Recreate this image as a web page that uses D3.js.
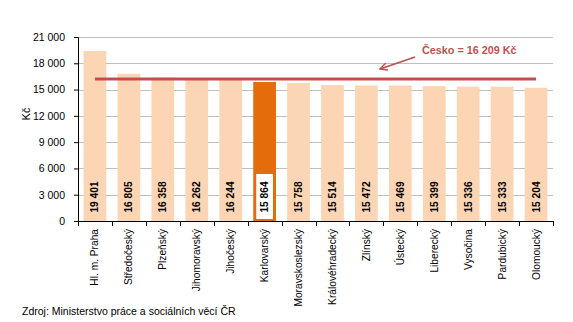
<!DOCTYPE html>
<html><head><meta charset="utf-8">
<script src="https://cdn.jsdelivr.net/npm/d3@7"></script>
<style>body{margin:0;background:#fff;}svg{display:block;font-family:"Liberation Sans",Arial,sans-serif;}</style>
</head><body>
<script>
const categories = ["Hl. m. Praha","Středočeský","Plzeňský","Jihomoravský","Jihočeský","Karlovarský","Moravskoslezský","Královéhradecký","Zlínský","Ústecký","Liberecký","Vysočina","Pardubický","Olomoucký"];
const values = [19401,16805,16358,16262,16244,15864,15758,15514,15472,15469,15399,15336,15333,15204];
const highlight = "Karlovarský";
const average = 16209;
const averageLabel = "Česko = 16 209 Kč";
const yTicks = [0,3000,6000,9000,12000,15000,18000,21000];
const yTitle = "Kč";
const source = "Zdroj: Ministerstvo práce a sociálních věcí ČR";

const W = 573, H = 322;
const svg = d3.select("body").append("svg").attr("width", W).attr("height", H);
const loc = d3.formatLocale({decimal: ",", thousands: " ", grouping: [3], currency: ["", ""]});
const fmt = loc.format(",d");

const x = d3.scaleBand().domain(categories).range([78, 553]).paddingInner(0.33).paddingOuter(0.165);
const y = d3.scaleLinear().domain([0, 21000]).range([221, 37]);

// gridlines
svg.append("g").selectAll("line").data(yTicks.filter(d => d > 0)).join("line")
  .attr("x1", 78).attr("x2", 553).attr("y1", d => Math.round(y(d)) + 0.5).attr("y2", d => Math.round(y(d)) + 0.5)
  .attr("stroke", "#BFBFBF").attr("stroke-width", 1);

// bars
svg.append("g").selectAll("rect").data(categories).join("rect")
  .attr("x", d => x(d)).attr("width", x.bandwidth())
  .attr("y", (d, i) => y(values[i])).attr("height", (d, i) => y(0) - y(values[i]))
  .attr("fill", d => d === highlight ? "#E46C0A" : "#FCD5B5");

// white box for highlighted label
svg.append("rect").attr("x", x(highlight) + 3).attr("width", x.bandwidth() - 6)
  .attr("y", 174).attr("height", 45).attr("fill", "#fff");

// value labels
svg.append("g").selectAll("text").data(categories).join("text")
  .attr("transform", d => `translate(${x(d) + x.bandwidth() / 2 + 3.5},197) rotate(-90)`)
  .attr("text-anchor", "middle").attr("font-size", 10.2).attr("font-weight", "bold").attr("fill", "#000")
  .text((d, i) => fmt(values[i]));

// y axis
const yAxis = svg.append("g").attr("transform", "translate(78,0)")
  .call(d3.axisLeft(y).tickValues(yTicks).tickFormat(fmt).tickSize(4).tickPadding(9));
yAxis.select(".domain").attr("stroke", "#000");
yAxis.selectAll(".tick line").attr("stroke", "#000");
yAxis.selectAll("text").attr("font-size", 10.5).attr("font-family", "Liberation Sans, Arial, sans-serif").attr("fill", "#000");

// x axis line and boundary ticks
const step = x.step();
const bounds = d3.range(categories.length + 1).map(i => 78 + i * step);
svg.append("line").attr("x1", 78).attr("x2", 553).attr("y1", y(0) + 0.5).attr("y2", y(0) + 0.5).attr("stroke", "#000");
svg.append("g").selectAll("line").data(bounds).join("line")
  .attr("x1", d => Math.round(d) + 0.5).attr("x2", d => Math.round(d) + 0.5)
  .attr("y1", y(0)).attr("y2", y(0) + 5).attr("stroke", "#000");

// category labels
svg.append("g").selectAll("text").data(categories).join("text")
  .attr("transform", d => `translate(${x(d) + x.bandwidth() / 2 + 3.5},229) rotate(-90)`)
  .attr("text-anchor", "end").attr("font-size", 10.2).attr("fill", "#000")
  .text(d => d);

// y title
svg.append("text").attr("transform", "translate(30,114) rotate(-90)")
  .attr("text-anchor", "middle").attr("font-size", 10.5).attr("fill", "#000").text(yTitle);

// average line
svg.append("line")
  .attr("x1", x(categories[0]) + x.bandwidth() / 2).attr("x2", x(categories[categories.length - 1]) + x.bandwidth() / 2)
  .attr("y1", y(average)).attr("y2", y(average))
  .attr("stroke", "#C0504D").attr("stroke-width", 3.2);

// annotation arrow
const defs = svg.append("defs");
defs.append("marker").attr("id", "ah").attr("viewBox", "0 0 10 10").attr("refX", 9).attr("refY", 5)
  .attr("markerWidth", 5).attr("markerHeight", 5).attr("orient", "auto").attr("markerUnits", "strokeWidth")
  .append("path").attr("d", "M1,1 L9,5 L1,9").attr("fill", "none").attr("stroke", "#C0504D").attr("stroke-width", 1.6);
svg.append("line").attr("x1", 415).attr("y1", 57).attr("x2", 380).attr("y2", 69)
  .attr("stroke", "#C0504D").attr("stroke-width", 1.8).attr("marker-end", "url(#ah)");
svg.append("text").attr("x", 422).attr("y", 54).attr("font-size", 10.8).attr("font-weight", "bold")
  .attr("fill", "#C0504D").text(averageLabel);

// source
svg.append("text").attr("x", 22).attr("y", 315).attr("font-size", 10.5).attr("fill", "#000").text(source);
</script>
</body></html>
